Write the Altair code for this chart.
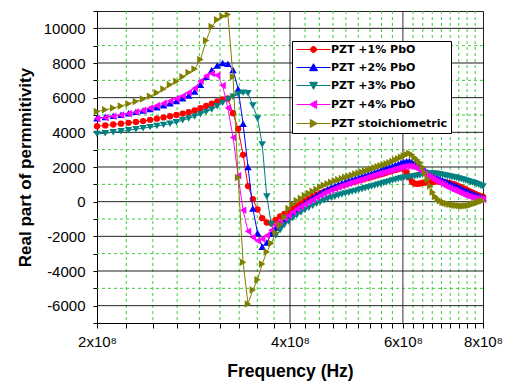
import altair as alt
import pandas as pd

# Frequency in MHz (axis labels shown as x10^8 Hz)
freq_mhz = [200, 206, 212, 218, 224, 230, 236, 242, 248, 254,
            260, 266, 272, 278, 284, 290, 296, 302, 308, 314,
            320, 326, 332, 338, 344, 350, 356, 362, 368, 374,
            380, 386, 392, 398, 404, 410, 416, 422, 428, 434,
            440, 446, 452, 458, 464, 470, 476, 482, 488, 494,
            500, 506, 512, 518, 524, 530, 536, 542, 548, 554,
            560, 566, 572, 578, 584, 590, 596, 602, 608, 614,
            620, 626, 632, 638, 644, 650, 656, 662, 668, 674,
            680, 686, 692, 698, 704, 710, 716, 722, 728, 734,
            740, 746, 752, 758, 764, 770, 776, 782, 788, 794,
            800]

eps_pbo1 = [4350, 4400, 4450, 4500, 4550, 4600, 4650, 4720, 4790, 4860,
            4930, 5000, 5080, 5160, 5260, 5390, 5520, 5650, 5790, 5900,
            5950, 5100, 4200, 2700, 900, 150, -450, -950, -1200, -1250,
            -1050, -850, -700, -550, -400, -250, -100, 50, 180, 300,
            400, 490, 570, 650, 730, 800, 870, 940, 1000, 1060,
            1120, 1180, 1230, 1280, 1330, 1380, 1430, 1480, 1530, 1580,
            1630, 1680, 1730, 1780, 1830, 1880, 1920, 1900, 1700, 1400,
            1150, 1050, 1030, 1050, 1080, 1100, 1120, 1140, 1150, 1160,
            1160, 1150, 1140, 1120, 1100, 1070, 1030, 990, 940, 880,
            820, 760, 700, 640, 580, 520, 460, 410, 360, 320,
            280]

eps_pbo2 = [4810, 4880, 4950, 5020, 5100, 5180, 5260, 5350, 5450, 5560,
            5680, 5810, 5960, 6120, 6350, 6750, 7200, 7600, 7850, 8000,
            7950, 7600, 6500, 4500, 2000, -400, -1800, -2600, -2350, -1850,
            -1500, -1260, -1050, -850, -650, -450, -250, -80, 80, 230,
            370, 500, 620, 730, 830, 920, 1000, 1080, 1150, 1220,
            1280, 1340, 1400, 1460, 1520, 1580, 1640, 1700, 1760, 1820,
            1880, 1940, 2000, 2060, 2120, 2180, 2240, 2290, 2330, 2350,
            2300, 2200, 2100, 2000, 1900, 1800, 1700, 1620, 1540, 1460,
            1380, 1310, 1240, 1170, 1110, 1050, 990, 930, 870, 810,
            750, 690, 630, 570, 510, 450, 400, 350, 300, 260,
            220]

eps_pbo3 = [3900, 3950, 4000, 4060, 4120, 4180, 4240, 4300, 4360, 4430,
            4500, 4580, 4700, 4800, 4920, 5040, 5180, 5320, 5500, 5700,
            5900, 6050, 6200, 6280, 6250, 5550, 4800, 3300, 300, -1300,
            -1950, -1650, -1350, -1150, -950, -780, -620, -480, -350, -230,
            -120, -20, 70, 150, 220, 290, 350, 410, 470, 520,
            570, 620, 670, 720, 770, 820, 870, 920, 970, 1020,
            1070, 1120, 1170, 1220, 1270, 1310, 1350, 1380, 1400, 1420,
            1440, 1470, 1500, 1530, 1560, 1590, 1610, 1620, 1620, 1610,
            1590, 1570, 1540, 1510, 1480, 1450, 1420, 1390, 1360, 1330,
            1300, 1260, 1220, 1180, 1140, 1100, 1060, 1020, 970, 920,
            870]

eps_pbo4 = [4800, 4860, 4930, 5000, 5080, 5170, 5280, 5400, 5550, 5680,
            5810, 5950, 6100, 6300, 6550, 6950, 7250, 7400, 7300, 6700,
            5400, 3700, 1500, -500, -1700, -2050, -2250, -2150, -1950, -1650,
            -1350, -1120, -950, -800, -600, -430, -280, -140, 0, 130,
            250, 370, 480, 580, 670, 760, 840, 920, 990, 1060,
            1120, 1180, 1240, 1300, 1360, 1420, 1480, 1540, 1590, 1640,
            1690, 1740, 1790, 1840, 1890, 1940, 1980, 2020, 2050, 2060,
            2030, 1980, 1900, 1800, 1700, 1600, 1500, 1410, 1320, 1230,
            1150, 1070, 990, 920, 850, 780, 720, 660, 600, 540,
            480, 420, 370, 320, 270, 230, 200, 170, 150, 140,
            130]

eps_stoich = [5200, 5300, 5400, 5520, 5650, 5780, 5920, 6080, 6280, 6500,
              6750, 6950, 7200, 7450, 7650, 8200, 9300, 10100, 10500, 10700,
              10800, 7200, 1400, -3500, -5900, -5100, -4500, -3600, -2900, -2400,
              -1800, -1350, -900, -400, -150, 50, 200, 350, 480, 600,
              720, 840, 950, 1040, 1120, 1200, 1270, 1340, 1410, 1470,
              1530, 1590, 1650, 1710, 1770, 1830, 1890, 1950, 2010, 2070,
              2130, 2190, 2250, 2320, 2400, 2480, 2560, 2640, 2720, 2800,
              2700, 2550, 2400, 2250, 2000, 1650, 1300, 900, 550, 300,
              150, 50, -30, -80, -120, -150, -180, -200, -220, -240,
              -250, -250, -240, -220, -190, -150, -100, -60, -20, 20,
              60]

series_names = ["PZT +1% PbO", "PZT +2% PbO", "PZT +3% PbO",
                "PZT +4% PbO", "PZT stoichiometric"]
series_colors = ["#ff0000", "#0000ff", "#008080", "#ff00ff", "#808000"]
series_shapes = ["circle", "triangle-up", "triangle-down",
                 "triangle-left", "triangle-right"]
series_sizes = [40, 56, 56, 56, 56]
legend_shapes = [
    "M-4.25,0H4.25M0.75,0A0.75,0.75,0,1,1,-0.75,0A0.75,0.75,0,1,1,0.75,0Z",
    "M-4.25,0H4.25M0,-0.95L1,0.8L-1,0.8Z",
    "M-4.25,0H4.25M0,0.95L1,-0.8L-1,-0.8Z",
    "M-4.25,0H4.25M-0.95,0L0.8,-1L0.8,1Z",
    "M-4.25,0H4.25M0.95,0L-0.8,-1L-0.8,1Z",
]

x_major = [200, 400, 600, 800]
x_minor = [222.2, 244.4, 266.7, 288.9, 311.1, 333.3, 355.6, 377.8,
           422.2, 444.4, 466.7, 488.9, 511.1, 533.3, 555.6, 577.8,
           622.2, 644.4, 666.7, 688.9, 711.1, 733.3, 755.6, 777.8]
x_grid_major = [400, 600]
y_ticks = [-7000, -6000, -5000, -4000, -3000, -2000, -1000, 0, 1000, 2000,
           3000, 4000, 5000, 6000, 7000, 8000, 9000, 10000, 11000]
y_grid_major = [-6000, -4000, -2000, 0, 2000, 4000, 6000, 8000, 10000]
y_grid_minor = [-5000, -3000, -1000, 1000, 3000, 5000, 7000, 9000]

all_series = [eps_pbo1, eps_pbo2, eps_pbo3, eps_pbo4, eps_stoich]
rows = []
for name, vals in zip(series_names, all_series):
    for f, v in zip(freq_mhz, vals):
        rows.append({"f": f, "v": v, "series": name})
df = pd.DataFrame(rows)

xscale = alt.Scale(type="log", domain=[200, 800], nice=False)
yscale = alt.Scale(domain=[-7000, 11000], nice=False, zero=False)

FONT = "Liberation Sans"

x_axis = alt.Axis(
    values=sorted(x_major + x_minor),
    labelExpr="datum.value % 200 == 0 ? (datum.value / 100) + 'x10⁸' : ''",
    labelFont=FONT, labelFontSize=15, labelColor="black",
    labelFlush=False, labelOverlap=False, labelPadding=6,
    tickColor="black", tickSize=5, domainColor="black",
    grid=False, title="Frequency (Hz)", titleFont=FONT, titleFontSize=17.5,
    titleFontWeight="bold", titleColor="black", titlePadding=13,
)
y_axis = alt.Axis(
    values=y_ticks,
    labelExpr="datum.value % 2000 == 0 ? '' + datum.value : ''",
    labelFont=FONT, labelFontSize=15, labelColor="black",
    labelFlush=False, labelOverlap=False, labelPadding=8,
    tickColor="black", tickSize=4, domainColor="black",
    grid=False, title="Real part of permmitivity", titleFont=FONT,
    titleFontSize=17, titleFontWeight="bold", titleColor="black",
    titlePadding=9,
)

X = lambda: alt.X("f:Q", scale=xscale, axis=x_axis)
Y = lambda: alt.Y("v:Q", scale=yscale, axis=y_axis)

minor_x = alt.Chart(pd.DataFrame({"f": x_minor})).mark_rule(
    color="#3ccc3c", strokeDash=[3, 3], strokeWidth=1
).encode(x=X())

minor_y = alt.Chart(pd.DataFrame({"v": y_grid_minor})).mark_rule(
    color="#3ccc3c", strokeDash=[3, 3], strokeWidth=1
).encode(y=Y())

major_x = alt.Chart(pd.DataFrame({"f": x_grid_major})).mark_rule(
    color="#303030", strokeWidth=1
).encode(x=X())

major_y = alt.Chart(pd.DataFrame({"v": y_grid_major})).mark_rule(
    color="#202020", strokeWidth=1
).encode(y=Y())

series_layers = []
for name, col, shp, sz in zip(series_names, series_colors, series_shapes, series_sizes):
    base = alt.Chart(df).transform_filter(alt.datum.series == name)
    series_layers.append(base.mark_line(color=col, strokeWidth=1).encode(x=X(), y=Y()))
    series_layers.append(base.mark_point(filled=True, opacity=1, color=col,
                                         shape=shp, size=sz).encode(x=X(), y=Y()))

leg = alt.Legend(
    title=None, orient="none", legendX=195, legendY=30,
    fillColor="white", strokeColor="black", padding=3,
    symbolSize=64, symbolStrokeWidth=1, symbolOffset=13, labelOffset=12,
    labelFont="DejaVu Sans", labelFontSize=11, labelFontWeight="bold",
    labelColor="black", rowPadding=6, labelLimit=300,
)

legend_layer = alt.Chart(df).transform_filter("datum.v > 100000").mark_point(
    filled=True, opacity=1, size=64
).encode(
    fill=alt.Fill("series:N", scale=alt.Scale(domain=series_names, range=series_colors), legend=leg),
    stroke=alt.Stroke("series:N", scale=alt.Scale(domain=series_names, range=series_colors), legend=leg),
    shape=alt.Shape("series:N", scale=alt.Scale(domain=series_names, range=legend_shapes), legend=leg),
)

chart = alt.layer(
    minor_x, minor_y, major_x, major_y, *series_layers, legend_layer
).properties(
    width=386, height=312,
    autosize=alt.AutoSizeParams(type="none"),
    padding={"left": 97, "top": 11, "right": 25, "bottom": 62},
    background="white",
).configure_view(stroke="#202020", strokeWidth=1)

chart.save("out.html", embed_options={"renderer": "svg", "actions": False})
